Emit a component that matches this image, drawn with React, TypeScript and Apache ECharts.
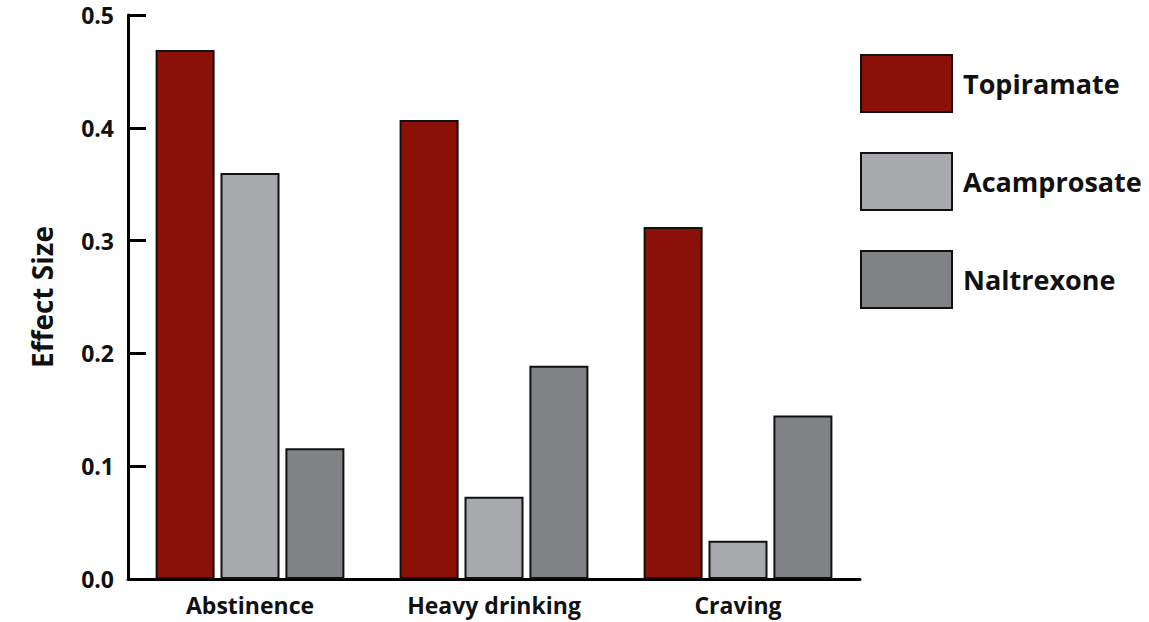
import React, { useEffect, useRef } from "react";
import * as echarts from "echarts";

const categories = ["Abstinence", "Heavy drinking", "Craving"];
const seriesNames = ["Topiramate", "Acamprosate", "Naltrexone"];
const topiramate = [0.469, 0.407, 0.312];
const acamprosate = [0.36, 0.073, 0.034];
const naltrexone = [0.116, 0.189, 0.145];
const colors = ["#8B1108", "#A7A9AC", "#808285"];
const yTicks = [0, 0.1, 0.2, 0.3, 0.4, 0.5];

export default function App() {
  const ref = useRef<HTMLDivElement>(null);
  useEffect(() => {
    if (!ref.current) return;
    const chart = echarts.init(ref.current, undefined, { renderer: "svg" });
    const font = "'Open Sans', 'Noto Sans', sans-serif";
    const data = [topiramate, acamprosate, naltrexone];
    chart.setOption({
      animation: false,
      backgroundColor: "#ffffff",
      textStyle: { fontFamily: font },
      grid: { left: 128, top: 15, width: 732, height: 564, containLabel: false },
      legend: {
        orient: "vertical",
        left: 855,
        top: 49,
        itemWidth: 91,
        itemHeight: 57,
        itemGap: 39,
        icon: "rect",
        data: seriesNames,
        textStyle: { fontFamily: font, fontSize: 27, fontWeight: "bold", color: "#111", padding: [0, 0, 0, 6] },
        selectedMode: false,
      },
      xAxis: {
        type: "category",
        data: categories,
        axisLine: { lineStyle: { color: "#000", width: 3 } },
        axisTick: { inside: true, length: 14, lineStyle: { color: "#000", width: 3 } },
        axisLabel: { fontFamily: font, fontSize: 23, fontWeight: "bold", color: "#111", margin: 14 },
      },
      yAxis: {
        type: "value",
        min: 0,
        max: 0.5,
        interval: 0.1,
        name: "Effect Size",
        nameLocation: "middle",
        nameGap: 72,
        nameRotate: 90,
        nameTextStyle: { fontFamily: font, fontSize: 28, fontWeight: "bold", color: "#111" },
        splitLine: { show: false },
        axisLine: { show: true, lineStyle: { color: "#000", width: 3 } },
        axisTick: { show: true, inside: true, length: 18, lineStyle: { color: "#000", width: 3 } },
        axisLabel: {
          fontFamily: font,
          fontSize: 23,
          fontWeight: "bold",
          color: "#111",
          margin: 14,
          formatter: (v: number) => {
            const t = yTicks.find((x) => Math.abs(x - v) < 1e-9);
            return (t !== undefined ? t : v).toFixed(1);
          },
        },
      },
      series: seriesNames.map((name, i) => ({
        name,
        type: "bar",
        data: data[i],
        barWidth: 59,
        barGap: "10%",
        itemStyle: { color: colors[i], borderColor: "#111", borderWidth: 2 },
      })),
    });
    return () => chart.dispose();
  }, []);
  return (
    <div
      ref={ref}
      style={{ position: "fixed", left: 0, top: 0, width: 1149, height: 622 }}
    />
  );
}
